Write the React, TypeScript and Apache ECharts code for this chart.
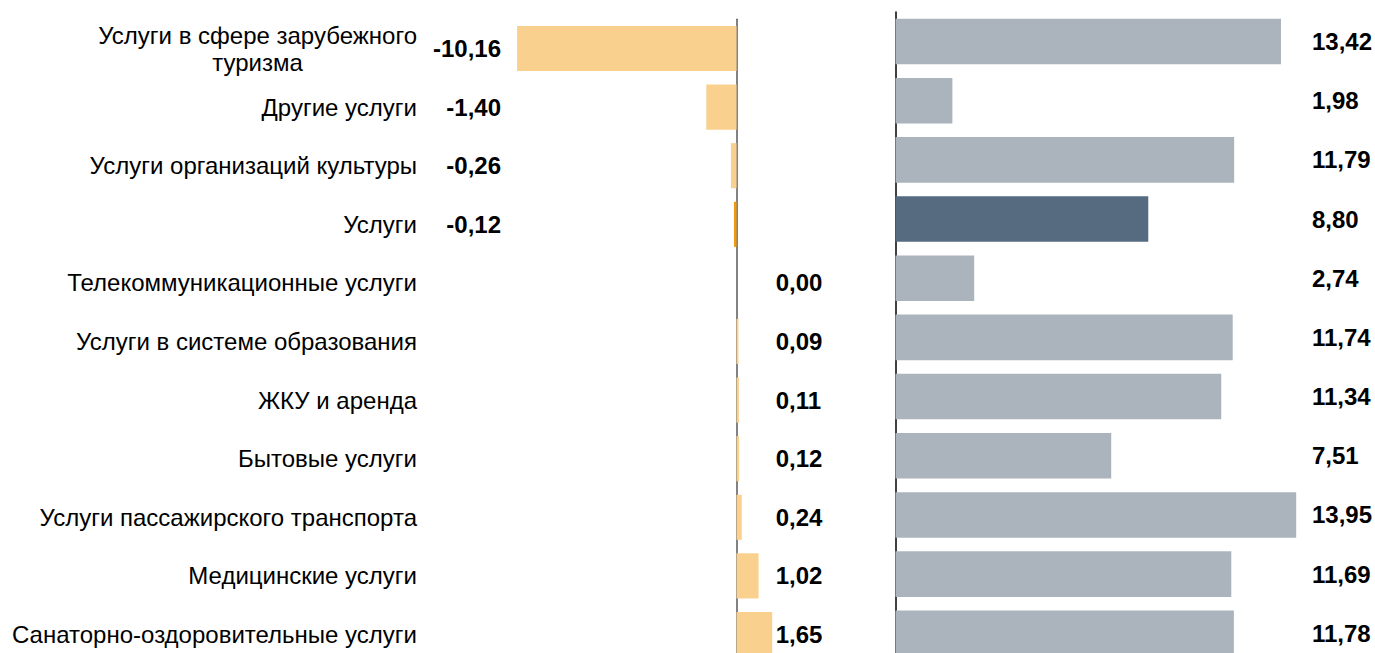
import React, { useEffect, useRef } from "react";
import * as echarts from "echarts";

const categories = [
  "Услуги в сфере зарубежного\nтуризма",
  "Другие услуги",
  "Услуги организаций культуры",
  "Услуги",
  "Телекоммуникационные услуги",
  "Услуги в системе образования",
  "ЖКУ и аренда",
  "Бытовые услуги",
  "Услуги пассажирского транспорта",
  "Медицинские услуги",
  "Санаторно-оздоровительные услуги",
];
const changeValues = [-10.16, -1.4, -0.26, -0.12, 0.0, 0.09, 0.11, 0.12, 0.24, 1.02, 1.65];
const levelValues = [13.42, 1.98, 11.79, 8.8, 2.74, 11.74, 11.34, 7.51, 13.95, 11.69, 11.78];
const highlightCategory = "Услуги";

const FONT = "'Liberation Sans', Arial, sans-serif";
const fmt = (v: number) => v.toFixed(2).replace(".", ",");

export default function App() {
  const ref = useRef<HTMLDivElement>(null);
  useEffect(() => {
    document.body.style.margin = "0";
    document.body.style.overflow = "hidden";
    document.documentElement.style.overflow = "hidden";
    const chart = echarts.init(ref.current!, null, { renderer: "svg" });
    const valueLabel = {
      fontFamily: FONT,
      fontSize: 24,
      fontWeight: "bold" as const,
      color: "#000",
    };
    chart.setOption({
      animation: false,
      backgroundColor: "#fff",
      grid: [
        { left: 509.7, top: 19.2, width: 264, height: 644.6, containLabel: false },
        { left: 895.5, top: 11.9, width: 402.2, height: 651, containLabel: false },
      ],
      xAxis: [
        { type: "value", gridIndex: 0, min: -10.5, max: 1.72, show: false },
        { type: "value", gridIndex: 1, min: 0, max: 14, show: false },
      ],
      yAxis: [
        {
          type: "category",
          gridIndex: 0,
          data: categories,
          inverse: true,
          position: "left",
          offset: 84.7,
          axisLine: { show: false, onZero: false },
          axisTick: { show: false },
          axisLabel: {
            margin: 8,
            fontFamily: FONT,
            fontSize: 24,
            color: "#000",
            lineHeight: 27,
            formatter: (v: string) =>
              v
                .split("\n")
                .map((s) => `{c|${s}}`)
                .join("\n"),
            rich: { c: { align: "center", fontFamily: FONT, fontSize: 24, color: "#000", lineHeight: 27 } },
          },
        },
        {
          type: "category",
          gridIndex: 0,
          data: categories,
          inverse: true,
          position: "left",
          offset: 0.7,
          axisLine: { show: false, onZero: false },
          axisTick: { show: false },
          axisLabel: {
            margin: 8,
            ...valueLabel,
            formatter: (_v: string, i: number) => (changeValues[i] < 0 ? fmt(changeValues[i]) : ""),
          },
        },
        {
          type: "category",
          gridIndex: 0,
          data: categories,
          inverse: true,
          position: "right",
          offset: -6,
          axisLine: { show: false, onZero: false },
          axisTick: { show: false },
          axisLabel: {
            margin: 8,
            ...valueLabel,
            formatter: (_v: string, i: number) => (changeValues[i] >= 0 ? fmt(changeValues[i]) : ""),
          },
        },
        {
          type: "category",
          gridIndex: 0,
          data: categories,
          inverse: true,
          axisLine: { show: true, onZero: true, lineStyle: { color: "#595959", width: 1.5 } },
          axisTick: { show: false },
          axisLabel: { show: false },
        },
        {
          type: "category",
          gridIndex: 1,
          data: categories,
          inverse: true,
          position: "left",
          axisLine: { show: true, onZero: true, lineStyle: { color: "#000", width: 1.5 } },
          axisTick: { show: false },
          axisLabel: { show: false },
        },
        {
          type: "category",
          gridIndex: 1,
          data: categories,
          inverse: true,
          position: "right",
          offset: 6.3,
          axisLine: { show: false, onZero: false },
          axisTick: { show: false },
          axisLabel: {
            margin: 8,
            ...valueLabel,
            formatter: (_v: string, i: number) => fmt(levelValues[i]),
          },
        },
      ],
      series: [
        {
          type: "bar",
          xAxisIndex: 0,
          yAxisIndex: 3,
          data: changeValues,
          barCategoryGap: "23%",
          itemStyle: {
            color: (p: any) => (categories[p.dataIndex] === highlightCategory ? "#F29A0E" : "#FAD08E"),
          },
        },
        {
          type: "bar",
          xAxisIndex: 1,
          yAxisIndex: 4,
          data: levelValues,
          barCategoryGap: "23%",
          itemStyle: {
            color: (p: any) => (categories[p.dataIndex] === highlightCategory ? "#566B80" : "#ABB4BD"),
          },
        },
      ],
    });
    return () => chart.dispose();
  }, []);
  return <div ref={ref} style={{ width: 1375, height: 680 }} />;
}
